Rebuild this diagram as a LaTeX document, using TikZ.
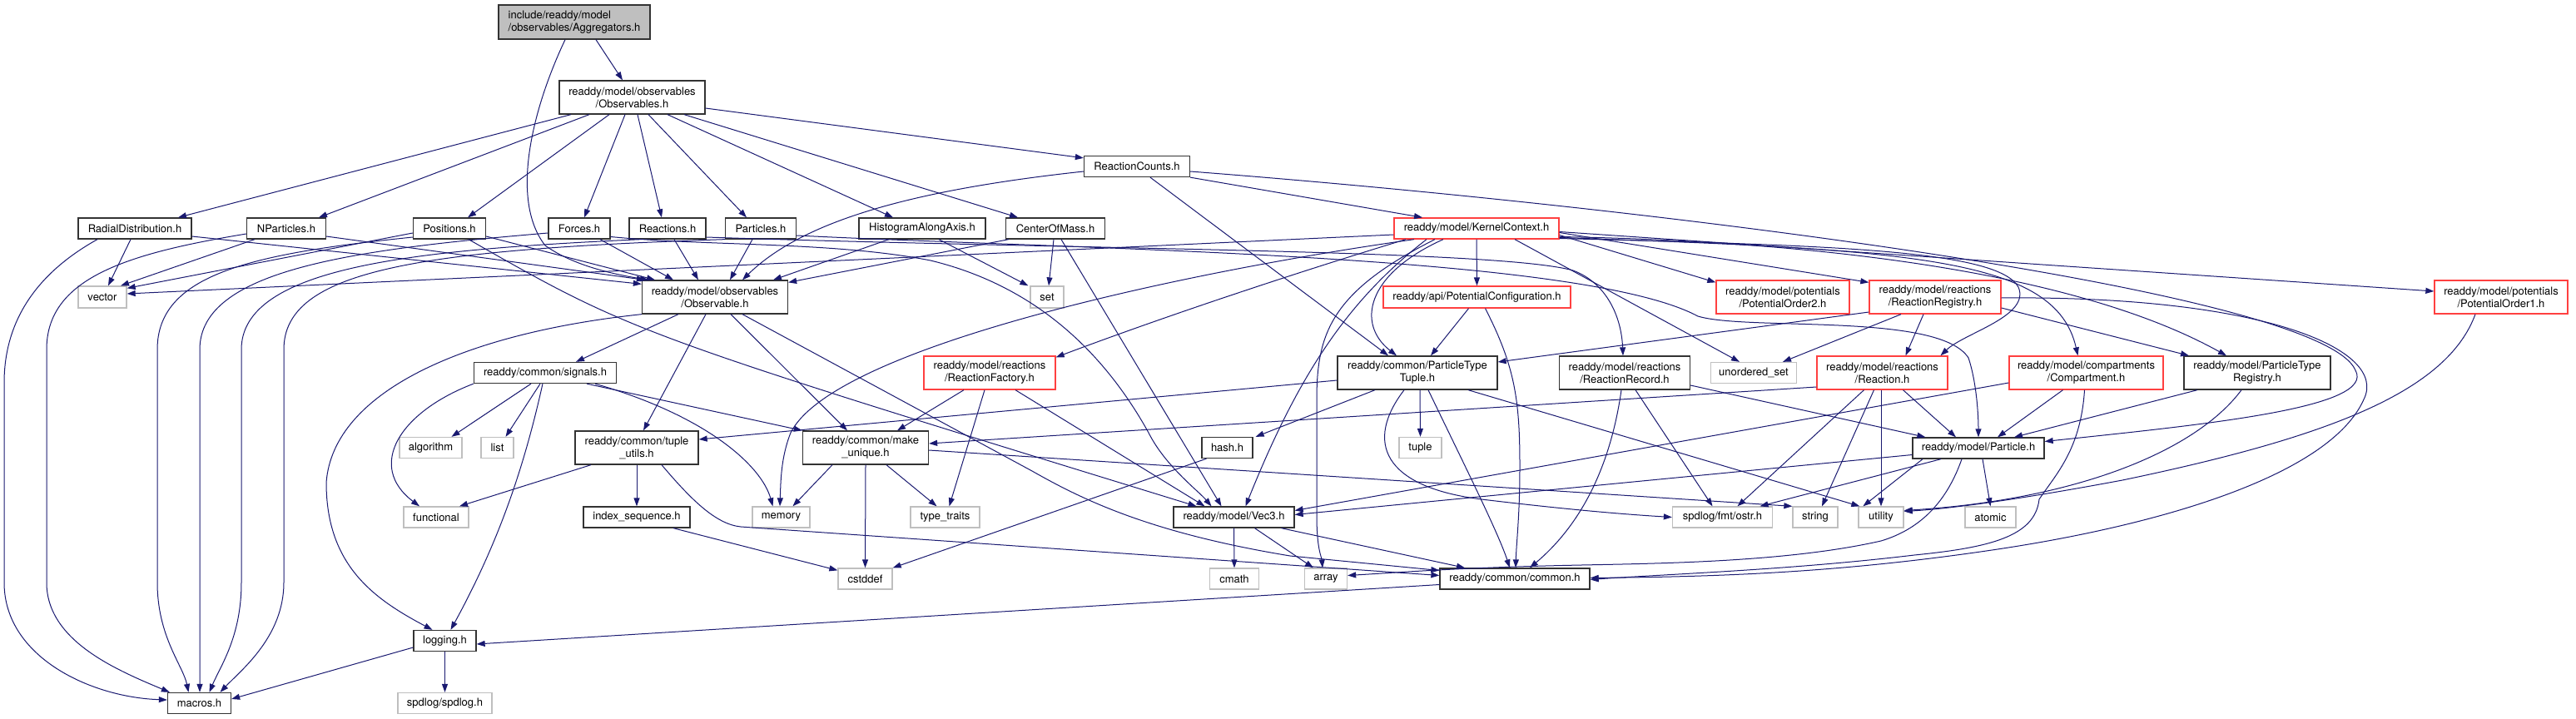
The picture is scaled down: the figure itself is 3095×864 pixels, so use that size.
\documentclass[tikz,border=0pt]{standalone}
\usepackage{fontspec}
\setmainfont{TeX Gyre Heros}
\usetikzlibrary{arrows.meta}
\definecolor{edgec}{HTML}{191970}
\definecolor{redb}{HTML}{FF4040}
\definecolor{grayb}{HTML}{BFBFBF}
\definecolor{darkb}{HTML}{333333}
\newcommand{\nodefont}{\fontsize{13}{15}\selectfont}
\tikzset{
  nb/.style={draw=darkb, line width=1.3pt, fill=white, inner sep=0pt, font=\nodefont, align=center},
  rb/.style={nb, draw=redb},
  gb/.style={nb, draw=grayb},
  rootb/.style={nb, draw=darkb, fill=grayb, align=left},
  e/.style={draw=edgec, line width=1pt, -{Triangle[length=10pt,width=7pt]}}
}
\begin{document}
\begin{tikzpicture}[x=1pt,y=-1pt]
\useasboundingbox (0,0) rectangle (3095,864);
% ---------- nodes ----------
\node[rootb, minimum width=182, minimum height=41] (agg) at (690,26.5) {include/readdy/model\\/observables/Aggregators.h};
\node[nb, minimum width=175, minimum height=40] (obss) at (759.5,117) {readdy/model/observables\\/Observables.h};
\node[nb, minimum width=136, minimum height=25] (rd) at (162,274.5) {RadialDistribution.h};
\node[nb, minimum width=95, minimum height=25] (np) at (344,274.5) {NParticles.h};
\node[nb, minimum width=87, minimum height=25] (pos) at (540,274.5) {Positions.h};
\node[nb, minimum width=74, minimum height=25] (frc) at (696,274.5) {Forces.h};
\node[nb, minimum width=92, minimum height=25] (rcs) at (802,274.5) {Reactions.h};
\node[nb, minimum width=85, minimum height=25] (pts) at (914,274.5) {Particles.h};
\node[nb, minimum width=152, minimum height=25] (hist) at (1108,274.5) {HistogramAlongAxis.h};
\node[nb, minimum width=119, minimum height=25] (com) at (1268,274.5) {CenterOfMass.h};
\node[nb, minimum width=127, minimum height=25] (rcnt) at (1366,200) {ReactionCounts.h};
\node[rb, minimum width=198, minimum height=25] (kc) at (1774,274.5) {readdy/model/KernelContext.h};
\node[gb, minimum width=58, minimum height=26] (vec) at (123,357) {vector};
\node[nb, minimum width=175, minimum height=40] (obs) at (859,357) {readdy/model/observables\\/Observable.h};
\node[gb, minimum width=40, minimum height=26] (set) at (1258,357) {set};
\node[rb, minimum width=225, minimum height=26] (pconf) at (1774.5,357) {readdy/api/PotentialConfiguration.h};
\node[rb, minimum width=160, minimum height=40] (po2) at (2142,357) {readdy/model/potentials\\/PotentialOrder2.h};
\node[rb, minimum width=158, minimum height=40] (rreg) at (2325,357) {readdy/model/reactions\\/ReactionRegistry.h};
\node[rb, minimum width=160, minimum height=40] (po1) at (3005,357) {readdy/model/potentials\\/PotentialOrder1.h};
\node[nb, minimum width=171, minimum height=25] (sig) at (655,448) {readdy/common/signals.h};
\node[rb, minimum width=158, minimum height=40] (rfac) at (1189,448) {readdy/model/reactions\\/ReactionFactory.h};
\node[nb, minimum width=192, minimum height=40] (ptt) at (1703,448) {readdy/common/ParticleType\\Tuple.h};
\node[nb, minimum width=157, minimum height=40] (rrec) at (1952,448) {readdy/model/reactions\\/ReactionRecord.h};
\node[gb, minimum width=103, minimum height=25] (uset) at (2107,448) {unordered\_set};
\node[rb, minimum width=157, minimum height=40] (reac) at (2261.5,448) {readdy/model/reactions\\/Reaction.h};
\node[rb, minimum width=185, minimum height=40] (comp) at (2506.5,448) {readdy/model/compartments\\/Compartment.h};
\node[nb, minimum width=176, minimum height=40] (ptreg) at (2712,448) {readdy/model/ParticleType\\Registry.h};
\node[gb, minimum width=75, minimum height=25] (alg) at (517.5,538) {algorithm};
\node[gb, minimum width=39, minimum height=25] (lst) at (597.5,538) {list};
\node[nb, minimum width=148, minimum height=40] (tup) at (765,538) {readdy/common/tuple\\\_utils.h};
\node[nb, minimum width=151, minimum height=40] (mku) at (1040,538) {readdy/common/make\\\_unique.h};
\node[nb, minimum width=61, minimum height=25] (hash) at (1474.5,538) {hash.h};
\node[gb, minimum width=51, minimum height=25] (tpl) at (1706.5,538) {tuple};
\node[nb, minimum width=158, minimum height=25] (part) at (2377,538.5) {readdy/model/Particle.h};
\node[gb, minimum width=78, minimum height=25] (func) at (524,621.5) {functional};
\node[nb, minimum width=128, minimum height=25] (idx) at (765,621.5) {index\_sequence.h};
\node[gb, minimum width=69, minimum height=25] (mem) at (938.5,621.5) {memory};
\node[gb, minimum width=83, minimum height=25] (tt) at (1135.5,621.5) {type\_traits};
\node[nb, minimum width=145, minimum height=25] (v3) at (1482.5,621.5) {readdy/model/Vec3.h};
\node[gb, minimum width=120, minimum height=25] (ostr) at (2069.5,621.5) {spdlog/fmt/ostr.h};
\node[gb, minimum width=54, minimum height=25] (str) at (2181,621.5) {string};
\node[gb, minimum width=54, minimum height=25] (util) at (2260,621.5) {utility};
\node[gb, minimum width=61, minimum height=25] (atom) at (2391.5,621.5) {atomic};
\node[gb, minimum width=65, minimum height=25] (cstd) at (1039.5,695.5) {cstddef};
\node[gb, minimum width=59, minimum height=25] (cmath) at (1483,695.5) {cmath};
\node[gb, minimum width=51, minimum height=25] (arr) at (1593,695.5) {array};
\node[nb, minimum width=180, minimum height=25] (cmn) at (1820,695.5) {readdy/common/common.h};
\node[nb, minimum width=75, minimum height=25] (log) at (534.5,770) {logging.h};
\node[nb, minimum width=76, minimum height=25] (mac) at (239.5,845) {macros.h};
\node[gb, minimum width=113, minimum height=25] (spd) at (534.5,845) {spdlog/spdlog.h};
% ---------- edges ----------
% Aggregators
\draw[e] ([xshift=26]agg.south) -- ([xshift=-11.5]obss.north);
\draw[e] ([xshift=-11]agg.south) .. controls (640,130) and (612,240) .. (655,295) .. controls (690,320) and (740,330) .. ([xshift=-80]obs.north);
% Observables
\draw[e] ([xshift=-73.5]obss.south) -- ([xshift=52]rd.north);
\draw[e] ([xshift=-51.5]obss.south) -- ([xshift=39]np.north);
\draw[e] ([xshift=-27.5]obss.south) -- ([xshift=22]pos.north);
\draw[e] ([xshift=-8.5]obss.south) -- ([xshift=6]frc.north);
\draw[e] ([xshift=6.5]obss.south) -- ([xshift=-7]rcs.north);
\draw[e] ([xshift=19.5]obss.south) -- ([xshift=-17]pts.north);
\draw[e] ([xshift=42.5]obss.south) -- ([xshift=-35]hist.north);
\draw[e] ([xshift=62.5]obss.south) -- ([xshift=-45]com.north);
\draw[e] ([yshift=-13]obss.east) -- ([yshift=-3]rcnt.north west);
% RadialDistribution
\draw[e] ([xshift=-5]rd.south) -- ([xshift=7]vec.north);
\draw[e] ([yshift=-9.5]rd.east) -- ([yshift=-5]obs.north west);
\draw[e] ([xshift=-45]rd.south) .. controls (50,325) and (5,380) .. (5,460) -- (5,700) .. controls (5,790) and (110,838) .. ([yshift=4]mac.west);
% NParticles
\draw[e] ([xshift=-38]np.south) -- ([xshift=22]vec.north);
\draw[e] ([yshift=-9.5]np.east) -- ([xshift=4]obs.north west);
\draw[e] ([yshift=-6.5]np.west) .. controls (150,305) and (56,335) .. (56,420) -- (56,700) .. controls (56,770) and (140,805) .. ([xshift=3]mac.north west);
% Positions
\draw[e] ([yshift=-5.5]pos.west) -- ([yshift=-3]vec.north east);
\draw[e] ([yshift=-9.5]pos.east) -- ([xshift=-72]obs.north);
\draw[e] ([yshift=-10.5]pos.west) .. controls (300,305) and (189,330) .. (189,420) -- (189,700) .. controls (189,765) and (220,800) .. ([xshift=-13]mac.north);
\draw[e] ([xshift=23]pos.south) .. controls (760,400) .. ([xshift=-45]v3.north);
% Forces
\draw[e] ([xshift=25]frc.south) -- ([xshift=-50]obs.north);
\draw[e] ([yshift=-5.5]frc.west) .. controls (420,300) and (240,325) .. (240,420) -- (240,700) -- ([xshift=0.5]mac.north);
\draw[e] ([yshift=-10]frc.east) .. controls (850,296) and (1000,290) .. (1118,313) .. controls (1250,345) and (1330,430) .. (1380,520) .. controls (1400,560) and (1440,590) .. ([xshift=-27]v3.north);
% Reactions
\draw[e] ([xshift=8]rcs.south) -- ([xshift=-20]obs.north);
\draw[e] ([xshift=-32]rcs.south) .. controls (500,300) and (290,320) .. (290,420) -- (290,700) .. controls (290,765) and (265,800) .. ([xshift=12]mac.north);
\draw[e] ([yshift=-10.5]rcs.east) .. controls (1300,300) and (1800,300) .. (1890,325) .. controls (1930,340) and (1948,380) .. ([xshift=-2]rrec.north);
% Particles
\draw[e] ([xshift=-10]pts.south) -- ([xshift=18]obs.north);
\draw[e] (pts.south west) .. controls (500,300) and (341,325) .. (341,420) -- (341,700) .. controls (341,765) and (290,805) .. ([xshift=25]mac.north);
\draw[e] ([yshift=-8.5]pts.east) .. controls (1300,300) and (1900,305) .. (2040,380) .. controls (2100,398) and (2330,375) .. (2365,430) .. controls (2375,460) and (2377,500) .. (part.north);
% HistogramAlongAxis
\draw[e] ([xshift=-40]hist.south) -- ([xshift=70]obs.north);
\draw[e] ([xshift=20]hist.south) -- ([xshift=-2]set.north west);
% CenterOfMass
\draw[e] ([xshift=4]com.south west) -- ([yshift=-3]obs.north east);
\draw[e] ([xshift=-2]com.south) -- ([xshift=2]set.north);
\draw[e] ([xshift=7]com.south) -- ([xshift=-15]v3.north);
% ReactionCounts
\draw[e] ([yshift=-6]rcnt.west) .. controls (1080,230) and (960,270) .. ([xshift=33]obs.north);
\draw[e] (rcnt.south east) -- ([xshift=-65]kc.north);
\draw[e] ([xshift=16]rcnt.south) -- ([xshift=-35]ptt.north);
\draw[e] ([yshift=-6]rcnt.east) .. controls (2000,250) and (2790,350) .. (2830,445) .. controls (2855,490) and (2650,510) .. ([yshift=8]part.east);
% KernelContext
\draw[e] ([yshift=-7.5]kc.west) -- ([yshift=4]vec.east);
\draw[e] ([xshift=-75]kc.south) .. controls (1400,330) and (1000,420) .. (950,520) .. controls (938,550) and (938,580) .. ([xshift=-1.5]mem.north);
\draw[e] ([xshift=-50]kc.south) .. controls (1600,350) and (1582,400) .. (1582,480) -- (1582,620) .. controls (1582,660) and (1588,670) .. ([xshift=-4]arr.north);
\draw[e] ([xshift=-40]kc.south) .. controls (1640,330) and (1630,390) .. ([xshift=-25]ptt.north);
\draw[e] (kc.south) -- (pconf.north);
\draw[e] ([xshift=-85]kc.south) .. controls (1550,330) and (1400,380) .. ([yshift=-2]rfac.north east);
\draw[e] ([xshift=-60]kc.south) .. controls (1620,360) and (1560,450) .. ([xshift=14]v3.north);
\draw[e] ([xshift=46]kc.south) -- ([xshift=-17]uset.north);
\draw[e] ([yshift=-8]kc.east) -- ([yshift=-3]po2.north west);
\draw[e] ([yshift=-5]kc.east) -- ([yshift=-3]rreg.north west);
\draw[e] ([yshift=-10]kc.east) .. controls (2200,290) and (2500,330) .. ([xshift=-37]ptreg.north);
\draw[e] ([yshift=-11]kc.east) .. controls (2300,300) and (2470,310) .. ([xshift=-10]comp.north);
\draw[e] ([yshift=-12]kc.east) .. controls (2200,295) and (2400,300) .. (2425,345) .. controls (2440,380) and (2360,400) .. ([xshift=70]reac.north);
\draw[e] ([yshift=-4]kc.east) -- ([yshift=7]po1.west);
% PotentialConfiguration
\draw[e] ([xshift=-10]pconf.south) -- ([xshift=16]ptt.north);
\draw[e] ([xshift=10]pconf.south) .. controls (1820,440) and (1826,480) .. (1826,560) .. controls (1826,620) and (1822,650) .. ([xshift=1]cmn.north);
% ReactionRegistry
\draw[e] ([yshift=-18]rreg.west) -- ([yshift=13]ptt.east);
\draw[e] ([xshift=-41]rreg.south) -- ([xshift=35]uset.north);
\draw[e] ([xshift=-14]rreg.south) -- ([xshift=28]reac.north);
\draw[e] ([yshift=-13]rreg.east) -- ([xshift=-82]ptreg.north);
\draw[e] ([yshift=-1]rreg.east) .. controls (2720,355) and (2870,420) .. (2840,480) .. controls (2800,570) and (2600,630) .. (2400,660) .. controls (2200,690) and (2050,693) .. ([yshift=1]cmn.east);
% Reaction
\draw[e] ([yshift=-17]reac.west) -- ([yshift=5]mku.east);
\draw[e] ([xshift=-22]reac.south) -- ([xshift=18]ostr.north);
\draw[e] ([xshift=-10]reac.south) -- ([xshift=8]str.north);
\draw[e] ([xshift=-1.5]reac.south) -- (util.north);
\draw[e] ([xshift=25]reac.south) -- ([xshift=-27]part.north);
% Compartment
\draw[e] ([yshift=-12]comp.west) -- ([yshift=8]v3.east);
\draw[e] ([xshift=-28]comp.south) -- ([xshift=23]part.north);
\draw[e] ([xshift=-2]comp.south) .. controls (2500,540) and (2470,570) .. (2450,600) .. controls (2445,645) and (2390,658) .. (2300,667) .. controls (2150,685) and (2000,690) .. ([yshift=-1]cmn.east);
% ParticleTypeRegistry
\draw[e] ([xshift=-72]ptreg.south) -- ([xshift=43]part.north);
\draw[e] ([xshift=-19]ptreg.south) .. controls (2640,540) and (2500,600) .. ([yshift=8]util.east);
% PotentialOrder1
\draw[e] ([xshift=-31]po1.south) .. controls (2940,470) and (2800,525) .. (2550,577) .. controls (2400,605) and (2330,612) .. ([yshift=7]util.east);
% ReactionRecord
\draw[e] ([xshift=-4]rrec.south) .. controls (1935,560) and (1900,630) .. ([xshift=18]cmn.north);
\draw[e] ([xshift=13]rrec.south) -- ([xshift=-12]ostr.north);
\draw[e] ([yshift=-15]rrec.east) -- ([xshift=16]part.north west);
% ParticleTypeTuple
\draw[e] ([xshift=3]ptt.south) -- (tpl.north);
\draw[e] ([xshift=61]ptt.south) -- ([xshift=2]util.north west);
\draw[e] ([xshift=-51]ptt.south) -- ([xshift=3]hash.north east);
\draw[e] ([xshift=-16]ptt.south) .. controls (1640,530) and (1660,585) .. (1780,600) .. controls (1880,612) and (1950,618) .. (ostr.west);
\draw[e] ([xshift=13]ptt.south) .. controls (1760,560) and (1800,640) .. ([xshift=-6]cmn.north);
\draw[e] ([yshift=-9]ptt.west) -- ([yshift=10]tup.east);
% Vec3
\draw[e] (v3.south) -- (cmath.north);
\draw[e] ([xshift=25]v3.south) -- ([xshift=-15]arr.north);
\draw[e] ([xshift=57]v3.south) -- ([xshift=-60]cmn.north);
% Particle
\draw[e] ([yshift=-8]part.west) -- ([yshift=3]v3.east);
\draw[e] ([xshift=-45]part.south) -- ([xshift=45]ostr.north);
\draw[e] ([xshift=-67]part.south) -- ([xshift=6]util.north west);
\draw[e] ([xshift=5]part.south) -- (atom.north);
\draw[e] ([xshift=-20]part.south) .. controls (2340,600) and (2310,635) .. (2260,650) .. controls (2150,675) and (2000,677) .. (1900,679) .. controls (1750,682) and (1680,688) .. ([yshift=4]arr.east);
% signals
\draw[e] ([xshift=-17]sig.south) -- ([xshift=25]alg.north);
\draw[e] ([xshift=-6]sig.south) -- ([xshift=10]lst.north);
\draw[e] (sig.south west) .. controls (480,495) and (440,560) .. ([xshift=-20]func.north);
\draw[e] ([xshift=-3]sig.south) .. controls (630,560) and (600,650) .. ([xshift=7]log.north);
\draw[e] ([xshift=50]sig.south) -- (mku.north west);
\draw[e] ([xshift=60]sig.south) .. controls (850,500) and (915,560) .. ([xshift=-10]mem.north);
% tuple_utils
\draw[e] ([xshift=-55]tup.south) -- ([xshift=28]func.north);
\draw[e] (tup.south) -- (idx.north);
\draw[e] ([xshift=30]tup.south) .. controls (830,600) and (860,630) .. (890,633) -- ([yshift=4]cmn.west);
% index_sequence
\draw[e] ([xshift=44]idx.south) -- ([yshift=-3]cstd.north west);
% make_unique
\draw[e] ([xshift=-40]mku.south) -- ([xshift=14]mem.north);
\draw[e] (mku.south) -- (cstd.north);
\draw[e] ([xshift=25]mku.south) -- ([xshift=-10]tt.north);
\draw[e] ([yshift=-3]mku.east) -- (str.north west);
% hash
\draw[e] ([xshift=-25]hash.south) -- (cstd.north east);
% ReactionFactory
\draw[e] ([xshift=-31]rfac.south) -- ([xshift=38]mku.north);
\draw[e] ([xshift=-6]rfac.south) -- ([xshift=5]tt.north);
\draw[e] ([xshift=31]rfac.south) -- ([xshift=-35]v3.north);
% Observable
\draw[e] ([xshift=-44]obs.south) -- ([xshift=37]sig.north);
\draw[e] ([xshift=-11]obs.south) -- ([xshift=8]tup.north);
\draw[e] ([xshift=19]obs.south) -- ([xshift=-22]mku.north);
\draw[e] (obs.south west) .. controls (560,400) and (400,470) .. (392,580) .. controls (392,680) and (450,720) .. ([xshift=-15]log.north);
\draw[e] ([xshift=33]obs.south) -- (1240,566) .. controls (1300,600) and (1380,640) .. (1550,668) -- ([yshift=10]cmn.west);
% common
\draw[e] ([yshift=-7]cmn.west) -- ([yshift=-4]log.east);
% logging
\draw[e] ([yshift=-8]log.west) -- ([yshift=5]mac.east);
\draw[e] (log.south) -- (spd.north);
\end{tikzpicture}
\end{document}
